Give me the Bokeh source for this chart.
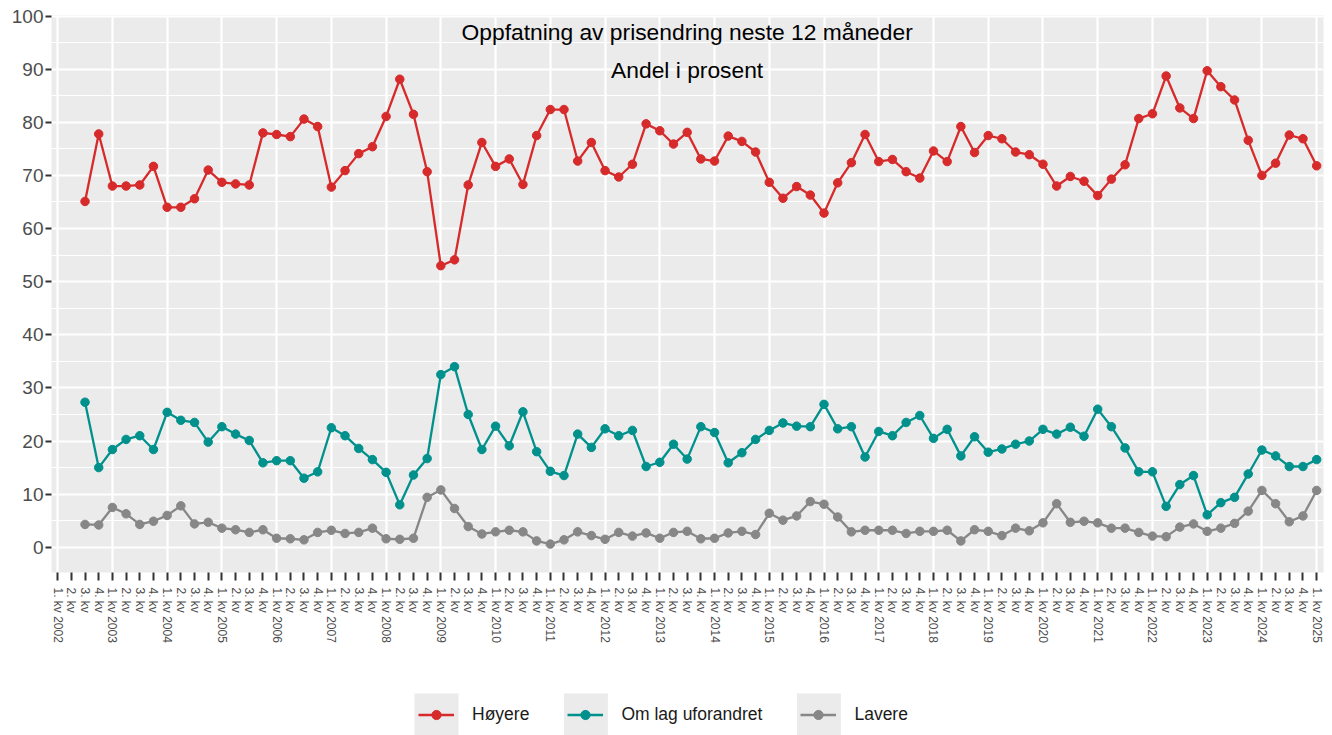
import math
from bokeh.plotting import figure
from bokeh.layouts import column
from bokeh.models import (ColumnDataSource, FixedTicker, Legend, LegendItem,
                          Label, Range1d)
from bokeh.embed import file_html
from bokeh.resources import INLINE

# ---------------- data ----------------
years = list(range(2002, 2026))
quarter_labels = []
for yr in years:
    for q in range(1, 5):
        if yr == 2025 and q > 1:
            break
        quarter_labels.append(f"{q}. kv {yr}" if q == 1 else f"{q}. kv")

first_period = 2  # series start at 3. kv 2002

hoyere = [65.1, 77.8, 68.0, 68.0, 68.2, 71.7, 64.0, 64.0, 65.6, 71.0,
          68.7, 68.4, 68.2, 78.0, 77.7, 77.3, 80.6, 79.2, 67.8, 70.9,
          74.1, 75.4, 81.1, 88.1, 81.5, 70.7, 53.0, 54.1, 68.2, 76.2,
          71.7, 73.1, 68.3, 77.5, 82.4, 82.4, 72.7, 76.2, 70.9, 69.7,
          72.1, 79.7, 78.4, 75.9, 78.1, 73.1, 72.7, 77.4, 76.4, 74.4,
          68.7, 65.7, 67.9, 66.3, 62.9, 68.6, 72.4, 77.7, 72.6, 73.0,
          70.7, 69.5, 74.6, 72.6, 79.2, 74.3, 77.5, 76.9, 74.4, 73.9,
          72.1, 68.0, 69.8, 68.9, 66.2, 69.3, 72.0, 80.7, 81.6, 88.7,
          82.7, 80.7, 89.7, 86.7, 84.2, 76.6, 70.0, 72.3, 77.6, 76.9,
          71.8]

uforandret = [27.3, 15.0, 18.4, 20.3, 21.0, 18.4, 25.4, 23.9, 23.5, 19.8,
              22.7, 21.3, 20.1, 15.9, 16.3, 16.3, 13.0, 14.2, 22.5, 21.0,
              18.6, 16.5, 14.1, 8.0, 13.6, 16.7, 32.5, 34.0, 25.0, 18.4,
              22.8, 19.1, 25.5, 18.0, 14.3, 13.5, 21.3, 18.8, 22.3, 21.0,
              22.0, 15.2, 16.0, 19.4, 16.6, 22.7, 21.6, 15.9, 17.8, 20.3,
              22.0, 23.4, 22.8, 22.7, 26.9, 22.3, 22.7, 17.0, 21.8, 21.0,
              23.5, 24.8, 20.5, 22.2, 17.2, 20.8, 17.9, 18.5, 19.4, 20.0,
              22.2, 21.3, 22.6, 20.9, 26.0, 22.7, 18.7, 14.2, 14.2, 7.7,
              11.8, 13.5, 6.1, 8.4, 9.4, 13.8, 18.3, 17.2, 15.2, 15.2,
              16.5]

lavere = [4.3, 4.2, 7.5, 6.3, 4.3, 4.9, 6.0, 7.8, 4.4, 4.7,
          3.6, 3.3, 2.8, 3.3, 1.7, 1.6, 1.4, 2.8, 3.2, 2.6,
          2.8, 3.6, 1.6, 1.5, 1.7, 9.4, 10.8, 7.3, 3.9, 2.5,
          2.9, 3.2, 2.9, 1.2, 0.6, 1.4, 2.9, 2.2, 1.5, 2.8,
          2.1, 2.7, 1.7, 2.8, 3.0, 1.6, 1.7, 2.7, 3.0, 2.4,
          6.4, 5.1, 5.9, 8.6, 8.1, 5.7, 2.9, 3.2, 3.2, 3.2,
          2.6, 3.0, 3.0, 3.2, 1.2, 3.3, 3.0, 2.2, 3.6, 3.1,
          4.6, 8.2, 4.7, 4.9, 4.6, 3.6, 3.6, 2.8, 2.1, 2.0,
          3.8, 4.4, 3.0, 3.6, 4.5, 6.8, 10.7, 8.2, 4.8, 5.9,
          10.7]

series_names = ["Høyere", "Om lag uforandret", "Lavere"]
series_colors = ["#D62A2B", "#00918D", "#878787"]
series_values = [hoyere, uforandret, lavere]

title_text = "Oppfatning av prisendring neste 12 måneder"
subtitle_text = "Andel i prosent"
y_ticks = list(range(0, 101, 10))
y_minor = list(range(5, 100, 10))

FONT = "Liberation Sans"
PANEL = "#EBEBEB"

# ---------------- main figure ----------------
n = len(quarter_labels)
p = figure(width=1332, height=690, output_backend="svg", toolbar_location=None,
           x_range=Range1d(-0.45, n - 1 + 0.5), y_range=Range1d(-4.75, 100.1),
           min_border_left=51, min_border_right=9, min_border_top=15,
           min_border_bottom=118, background_fill_color=PANEL,
           border_fill_color="white", outline_line_color=None)

# axes
p.xaxis.ticker = FixedTicker(ticks=list(range(n)))
p.xaxis.major_label_overrides = {i: lab for i, lab in enumerate(quarter_labels)}
p.xaxis.major_label_orientation = -math.pi / 2
p.xaxis.major_label_text_font_size = "12px"
p.yaxis.ticker = FixedTicker(ticks=y_ticks, minor_ticks=y_minor)
p.yaxis.major_label_text_font_size = "19px"
for ax in (p.xaxis[0], p.yaxis[0]):
    ax.axis_line_color = None
    ax.major_tick_line_color = "#333333"
    ax.major_tick_line_width = 2
    ax.major_tick_in = 0
    ax.minor_tick_line_color = None
    ax.major_label_text_font = FONT
    ax.major_label_text_color = "#4D4D4D"
p.xaxis.major_tick_out = 8
p.xaxis.major_label_standoff = 7
p.yaxis.major_tick_out = 6
p.yaxis.major_label_standoff = 2

# grid
p.xgrid.ticker = FixedTicker(ticks=[i for i in range(n) if i % 4 == 0])
p.xgrid.grid_line_color = "white"
p.xgrid.grid_line_width = 2.2
p.ygrid.grid_line_color = "white"
p.ygrid.grid_line_width = 2.2
p.ygrid.minor_grid_line_color = "white"
p.ygrid.minor_grid_line_width = 1.1

# ---------------- legend strip (frame is aligned with the main frame) ----------------
STRIP_H = 45
FRAME_W = 1332 - 51 - 9
STRIP_TOP = -300   # pixel-unit y range far below the (positive) series data
leg = figure(width=1332, height=STRIP_H, output_backend="svg", toolbar_location=None,
             x_range=Range1d(0, FRAME_W),
             y_range=Range1d(STRIP_TOP - STRIP_H, STRIP_TOP),
             x_axis_location=None, y_axis_location=None,
             min_border_left=51, min_border_right=9, min_border_top=0,
             min_border_bottom=0, background_fill_color="white",
             border_fill_color="white", outline_line_color=None)
leg.grid.visible = False

# legend layout (pixels)
LEG_X = 367          # left of first key glyph, from frame left
GLYPH_W, GLYPH_H = 36, 23
STANDOFF, SPACING = 18, 38
KEY_W, KEY_H = 44, 42
KEY_MID_FROM_TOP = 24
LABEL_PX = 17.5
# approximate advance widths (em) of the labels in Liberation Sans
label_em = [3.278, 8.059, 3.058]

# series
items = []
xs = list(range(first_period, first_period + len(hoyere)))
for name, color, vals in zip(series_names, series_colors, series_values):
    src = ColumnDataSource(data=dict(x=xs[:len(vals)], y=vals))
    p.line(x="x", y="y", source=src, line_color=color, line_width=2.3)
    p.scatter(x="x", y="y", source=src, size=8.5, fill_color=color,
              line_color=color)
    # legend-key renderers (the same data lies far outside the strip's ranges)
    key_ln = leg.line(x="x", y="y", source=src, line_color=color,
                      line_width=2.3)
    key_pt = leg.scatter(x="x", y="y", source=src, size=8.5,
                         fill_color=color, line_color=color)
    items.append(LegendItem(label=name, renderers=[key_ln, key_pt]))

# grey key backgrounds behind the legend glyphs
key_cx = []
cur = LEG_X
for em in label_em:
    key_cx.append(cur + GLYPH_W / 2)
    cur += GLYPH_W + STANDOFF + em * LABEL_PX + SPACING
leg.rect(x=key_cx, y=[STRIP_TOP - KEY_MID_FROM_TOP] * len(key_cx),
         width=KEY_W, height=KEY_H, fill_color=PANEL, line_color=None)

legend = Legend(items=items, orientation="horizontal",
                location=(LEG_X, STRIP_H - KEY_MID_FROM_TOP - GLYPH_H / 2),
                glyph_width=GLYPH_W, glyph_height=GLYPH_H,
                label_standoff=STANDOFF, spacing=SPACING,
                padding=0, margin=0, border_line_color=None,
                background_fill_alpha=0, label_text_font=FONT,
                label_text_font_size=f"{LABEL_PX}px", label_text_color="#1A1A1A")
leg.add_layout(legend, "center")

# titles inside panel
mid_x = (n - 1) / 2
p.add_layout(Label(x=mid_x, y=97.0, text=title_text, text_align="center",
                   text_baseline="alphabetic", text_font=FONT,
                   text_font_size="22.8px", text_color="black"))
p.add_layout(Label(x=mid_x, y=89.9, text=subtitle_text, text_align="center",
                   text_baseline="alphabetic", text_font=FONT,
                   text_font_size="22.8px", text_color="black"))

layout = column(p, leg, spacing=0)
open("out.html", "w").write(file_html(layout, INLINE))
